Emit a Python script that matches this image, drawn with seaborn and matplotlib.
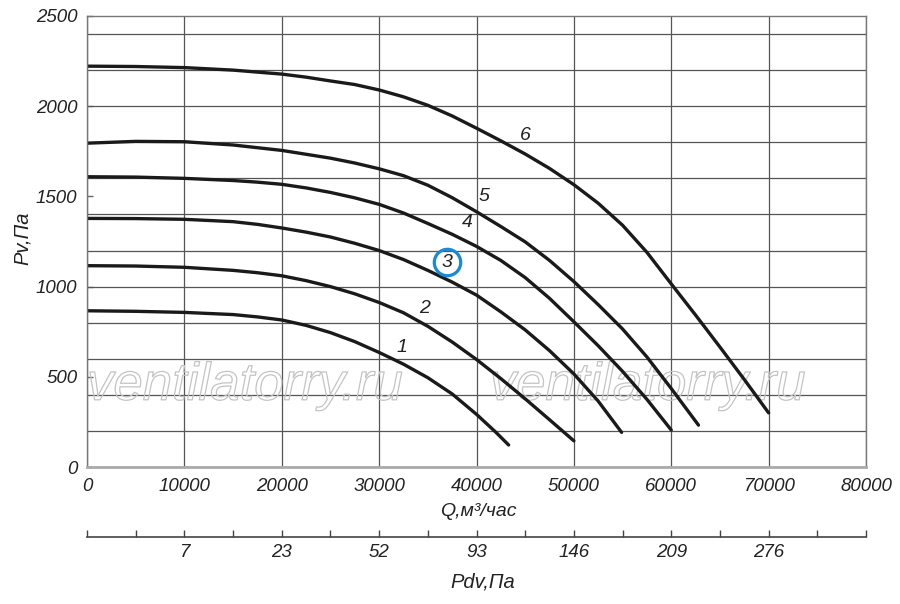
import numpy as np
import pandas as pd
import seaborn as sn
import matplotlib.pyplot as plt
import matplotlib.patheffects as pe

# fan curves: Q (m3/h) -> Pv (Pa)
q1 = [0, 5000, 10000, 15000, 17500, 20000, 22500, 25000, 27500, 30000, 32500, 35000, 37500, 40000,
      42000, 43300]
p1 = [866, 863, 857, 845, 832, 815, 785, 745, 695, 635, 570, 495, 405, 292, 192, 122]
q2 = [0, 5000, 10000, 15000, 17500, 20000, 22500, 25000, 27500, 30000, 32500, 35000, 37500, 40000,
      42500, 45000, 47500, 50000]
p2 = [1116, 1114, 1107, 1090, 1077, 1060, 1033, 1000, 960, 912, 855, 780, 693, 596, 490, 378, 262, 145]
q3 = [0, 5000, 10000, 15000, 17500, 20000, 22500, 25000, 27500, 30000, 32500, 35000, 37500, 40000,
      42500, 45000, 47500, 50000, 52500, 54900]
p3 = [1378, 1377, 1373, 1360, 1345, 1325, 1302, 1275, 1240, 1200, 1150, 1090, 1025, 953, 860, 760,
      645, 516, 365, 192]
q4 = [0, 5000, 10000, 15000, 17500, 20000, 22500, 25000, 27500, 30000, 32500, 35000, 37500, 40000,
      42500, 45000, 47500, 50000, 52500, 55000, 57500, 60000]
p4 = [1609, 1607, 1600, 1588, 1579, 1567, 1547, 1522, 1492, 1456, 1408, 1350, 1290, 1223, 1145, 1050,
      935, 805, 672, 530, 375, 205]
q5 = [0, 5000, 10000, 15000, 20000, 25000, 27500, 30000, 32500, 35000, 37500, 40000, 42500, 45000,
      47500, 50000, 52500, 55000, 57500, 60000, 62800]
p5 = [1795, 1805, 1803, 1785, 1755, 1712, 1685, 1653, 1615, 1562, 1493, 1415, 1333, 1248, 1145, 1028,
      900, 765, 610, 435, 232]
q6 = [0, 5000, 10000, 15000, 20000, 22500, 25000, 27500, 30000, 32500, 35000, 37500, 40000, 42500,
      45000, 47500, 50000, 52500, 55000, 57500, 60000, 62500, 65000, 67500, 70000]
p6 = [2222, 2220, 2214, 2200, 2178, 2161, 2140, 2120, 2090, 2052, 2005, 1946, 1878, 1808, 1735, 1655,
      1565, 1462, 1340, 1190, 1015, 842, 665, 485, 300]

curve_names = ['1', '2', '3', '4', '5', '6']
label_q = [32360, 34620, 36980, 39030, 40780, 44990]
label_p = [665, 876, 1136, 1353, 1497, 1835]

# dynamic pressure scale under the Q axis
pdv_q = [10000, 20000, 30000, 40000, 50000, 60000, 70000]
pdv_labels = ['7', '23', '52', '93', '146', '209', '276']

df = pd.concat([pd.DataFrame({'Q': q, 'P': p, 'curve': n})
                for q, p, n in zip([q1, q2, q3, q4, q5, q6], [p1, p2, p3, p4, p5, p6], curve_names)])

sn.set_style('white')
plt.rcParams['font.family'] = ['Liberation Sans', 'DejaVu Sans']
plt.rcParams['font.style'] = 'italic'

fig = plt.figure(figsize=(9, 6.04), dpi=100)
ax = fig.add_axes([87 / 900, 1 - 467 / 604, 779 / 900, 451 / 604])

txt = '#222222'
for n in curve_names:
    d = df[df['curve'] == n]
    sn.lineplot(data=d, x='Q', y='P', ax=ax, color='#1a1a1a', lw=2.4, sort=False, legend=False)

ax.set_xlim(0, 80000)
ax.set_ylim(0, 2500)
ax.set_xticks(np.arange(0, 80001, 10000))
ax.set_yticks(np.arange(0, 2501, 500))
ax.set_yticks(np.arange(0, 2500, 200), minor=True)
ax.yaxis.remove_overlapping_locs = False
ax.grid(which='major', axis='x', color='#555555', lw=0.9)
ax.grid(which='minor', axis='y', color='#555555', lw=0.9)
ax.tick_params(axis='x', which='both', length=0, pad=8, labelsize=13.5, labelcolor=txt)
ax.tick_params(axis='y', which='major', direction='in', length=4, width=1, color='#666666',
               pad=7, labelsize=13.5, labelcolor=txt, left=True)
ax.tick_params(axis='y', which='minor', length=0)
for s in ['top', 'right', 'left']:
    ax.spines[s].set_color('#777777')
    ax.spines[s].set_linewidth(1)
ax.spines['bottom'].set_color('#aaaaaa')
ax.spines['bottom'].set_linewidth(2)
ax.set_xlabel('')
ax.set_ylabel('')

for n, lq, lp in zip(curve_names, label_q, label_p):
    ax.text(lq, lp, n, fontsize=14, color=txt, ha='center', va='center')
ax.plot(label_q[2], label_p[2], 'o', mfc='none', mec='#1a8ad4', ms=19, mew=2.3)

# watermark
for xpos in [0.0, 0.517]:
    ax.text(xpos, 0.149, 'ventilatorry.ru', transform=ax.transAxes, fontsize=38,
            color='none', ha='left', va='baseline', zorder=1,
            path_effects=[pe.Stroke(linewidth=0.9, foreground='#c4c4c4')])

# secondary axis
ax2 = fig.add_axes([87 / 900, 1 - 537 / 604, 779 / 900, 0.02])
ax2.set_xlim(0, 80000)
ax2.set_xticks(pdv_q)
ax2.set_xticklabels(pdv_labels)
ax2.set_xticks(np.arange(0, 80001, 5000), minor=True)
ax2.set_yticks([])
ax2.patch.set_alpha(0)
for s in ['top', 'right', 'left']:
    ax2.spines[s].set_visible(False)
ax2.spines['bottom'].set_color('#444444')
ax2.spines['bottom'].set_linewidth(1.2)
ax2.xaxis.set_tick_params(which='both', direction='in', length=5, width=1, color='#444444',
                          pad=5, labelsize=13.5, labelcolor=txt, bottom=True, top=False)

fig.text(478 / 900, 1 - 512 / 604, 'Q,м³/час', fontsize=14, color=txt, ha='center', va='center')
fig.text(483 / 900, 1 - 582 / 604, 'Pdv,Па', fontsize=14.5, color=txt, ha='center', va='center')
fig.text(22 / 900, 1 - 238 / 604, 'Pv,Па', fontsize=14.5, color=txt, ha='center', va='center', rotation=90)

plt.savefig('out.png', dpi=100)
